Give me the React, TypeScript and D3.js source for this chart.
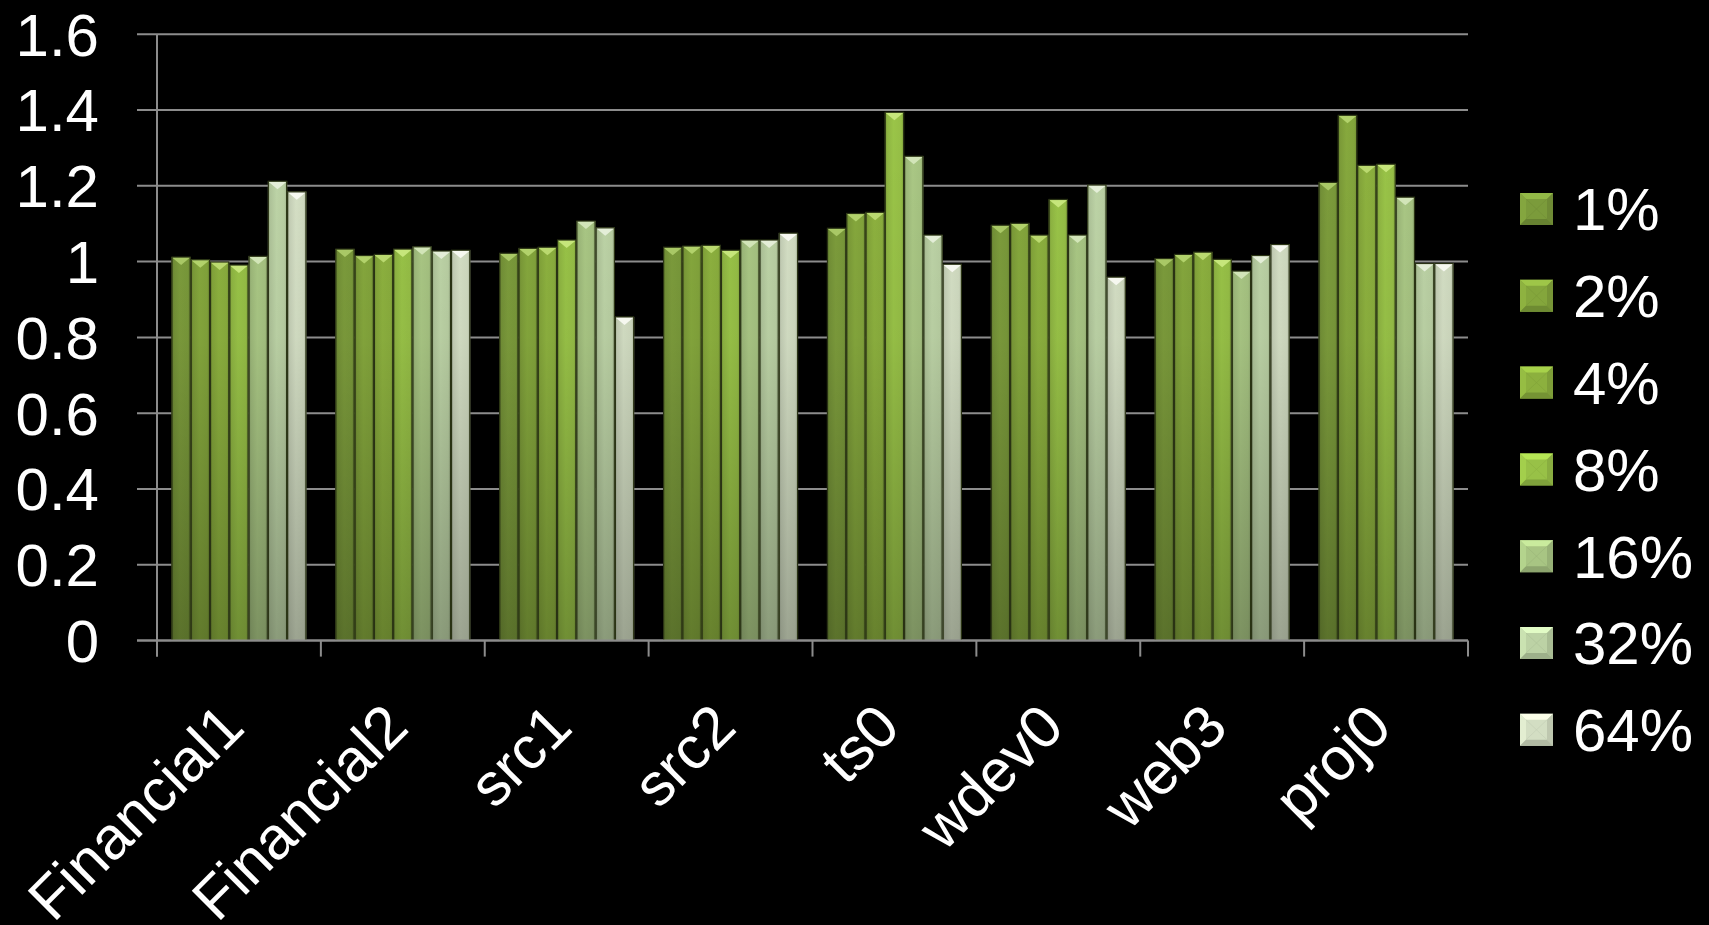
import React from 'react';
import * as d3 from 'd3';

const categories = ['Financial1', 'Financial2', 'src1', 'src2', 'ts0', 'wdev0', 'web3', 'proj0'];
const seriesNames = ['1%', '2%', '4%', '8%', '16%', '32%', '64%'];
const s1 = [1.012, 1.033, 1.022, 1.038, 1.088, 1.096, 1.008, 1.209];
const s2 = [1.005, 1.016, 1.035, 1.041, 1.127, 1.101, 1.019, 1.386];
const s4 = [0.999, 1.019, 1.038, 1.043, 1.13, 1.07, 1.025, 1.254];
const s8 = [0.991, 1.033, 1.057, 1.03, 1.394, 1.164, 1.006, 1.257];
const s16 = [1.014, 1.039, 1.107, 1.057, 1.278, 1.07, 0.975, 1.17];
const s32 = [1.212, 1.028, 1.089, 1.057, 1.07, 1.202, 1.016, 0.995];
const s64 = [1.184, 1.03, 0.854, 1.075, 0.993, 0.959, 1.045, 0.995];
const seriesValues = [s1, s2, s4, s8, s16, s32, s64];
const yTicks = [0, 0.2, 0.4, 0.6, 0.8, 1, 1.2, 1.4, 1.6];
const yTickLabels = ['0', '0.2', '0.4', '0.6', '0.8', '1', '1.2', '1.4', '1.6'];

const baseColors = ['#7b9b3b', '#84a63c', '#8cb03e', '#98c147', '#a8c583', '#bcd2a5', '#d3dec3'];
const topColors = ['#a9c866', '#b2d26b', '#bad96f', '#c6e67b', '#d2e5b8', '#e4eed8', '#f6f8f0'];

const W = 1709;
const H = 925;
const X0 = 157;
const X1 = 1468;
const Y0 = 640.6;
const Y1 = 34.2;
const FONT = '"Liberation Sans", Arial, Helvetica, sans-serif';

export default function App() {
  const x = d3.scaleBand<string>().domain(categories).range([X0, X1]).paddingInner(0).paddingOuter(0);
  const xs = d3.scaleBand<string>().domain(seriesNames).range([0, x.bandwidth()]).paddingInner(0).paddingOuter(0.75);
  const y = d3.scaleLinear().domain([0, 1.6]).range([Y0, Y1]);
  const bw = xs.bandwidth();
  const darker = (c: string, k: number) => d3.color(c)!.darker(k).formatHex();
  const brighter = (c: string, k: number) => d3.color(c)!.brighter(k).formatHex();

  const legendY0 = 209;
  const legendStep = 86.8;

  return (
    <svg width={W} height={H} style={{ position: 'absolute', left: 0, top: 0, background: '#000' }}>
      <defs>
        {baseColors.map((c, i) => (
          <linearGradient key={i} id={`hg${i}`} x1="0" x2="1" y1="0" y2="0">
            <stop offset="0" stopColor={darker(c, 0.7)} />
            <stop offset="0.12" stopColor={darker(c, 0.15)} />
            <stop offset="0.45" stopColor={brighter(c, 0.08)} />
            <stop offset="0.85" stopColor={c} />
            <stop offset="1" stopColor={darker(c, 0.45)} />
          </linearGradient>
        ))}
        <linearGradient id="vshade" gradientUnits="userSpaceOnUse" x1="0" x2="0" y1={Y1} y2={Y0}>
          <stop offset="0" stopColor="#000" stopOpacity="0" />
          <stop offset="0.5" stopColor="#000" stopOpacity="0.05" />
          <stop offset="1" stopColor="#000" stopOpacity="0.28" />
        </linearGradient>
      </defs>
      <rect x={0} y={0} width={W} height={H} fill="#000" />

      {/* gridlines + y ticks */}
      {yTicks.map((t) => (
        <line key={t} x1={137} x2={X1} y1={y(t)} y2={y(t)} stroke="#8c8c8c" strokeWidth={2} />
      ))}
      {/* y axis */}
      <line x1={X0} x2={X0} y1={Y1} y2={Y0 + 16} stroke="#8c8c8c" strokeWidth={2} />
      {/* category ticks */}
      {d3.range(categories.length + 1).map((i) => (
        <line key={i} x1={X0 + i * x.step()} x2={X0 + i * x.step()} y1={Y0} y2={Y0 + 16} stroke="#8c8c8c" strokeWidth={2} />
      ))}

      {/* bars */}
      {categories.map((cat, ci) => (
        <g key={cat}>
          {seriesNames.map((s, si) => {
            const v = seriesValues[si][ci];
            const bx = (x(cat) as number) + (xs(s) as number);
            const by = y(v);
            const bh = Y0 - by;
            return (
              <g key={s}>
                <rect x={bx} y={by} width={bw} height={bh} fill={`url(#hg${si})`} />
                <rect x={bx} y={by} width={bw} height={bh} fill="url(#vshade)" />
                <polygon
                  points={`${bx},${by} ${bx + bw},${by} ${bx + bw / 2},${by + 8}`}
                  fill={topColors[si]}
                />
                <rect x={bx + 0.5} y={by} width={bw - 1} height={bh} fill="none" stroke="#2a3314" strokeWidth={1.2} />
              </g>
            );
          })}
        </g>
      ))}

      {/* redraw x axis line above bars */}
      <line x1={137} x2={X1} y1={Y0} y2={Y0} stroke="#8c8c8c" strokeWidth={2} />

      {/* y labels */}
      {yTicks.map((t, i) => (
        <text key={t} x={99} y={y(t)} dy="0.358em" textAnchor="end" fill="#fff" fontSize={60} fontFamily={FONT}>
          {yTickLabels[i]}
        </text>
      ))}

      {/* x labels */}
      {categories.map((cat) => {
        const cx = (x(cat) as number) + x.bandwidth() / 2 + 8;
        const cy = 730;
        return (
          <text key={cat} transform={`translate(${cx},${cy}) rotate(-45)`} textAnchor="end" fill="#fff" fontSize={60} fontFamily={FONT}>
            {cat}
          </text>
        );
      })}

      {/* legend */}
      {seriesNames.map((s, i) => {
        const cy = legendY0 + i * legendStep;
        const lx = 1520;
        const ly = cy - 16;
        const sz = 33;
        const c = baseColors[i];
        const m = 6;
        return (
          <g key={s}>
            <rect x={lx} y={ly} width={sz} height={32} fill={c} />
            <polygon points={`${lx},${ly} ${lx + sz},${ly} ${lx + sz - m},${ly + m} ${lx + m},${ly + m}`} fill={brighter(c, 0.5)} />
            <polygon points={`${lx},${ly} ${lx + m},${ly + m} ${lx + m},${ly + 32 - m} ${lx},${ly + 32}`} fill={brighter(c, 0.2)} />
            <polygon points={`${lx + sz},${ly} ${lx + sz},${ly + 32} ${lx + sz - m},${ly + 32 - m} ${lx + sz - m},${ly + m}`} fill={darker(c, 0.3)} />
            <polygon points={`${lx},${ly + 32} ${lx + sz},${ly + 32} ${lx + sz - m},${ly + 32 - m} ${lx + m},${ly + 32 - m}`} fill={darker(c, 0.5)} />
            <line x1={lx + m} y1={ly + m} x2={lx + sz - m} y2={ly + 32 - m} stroke={darker(c, 0.2)} strokeWidth={1} opacity={0.6} />
            <line x1={lx + sz - m} y1={ly + m} x2={lx + m} y2={ly + 32 - m} stroke={darker(c, 0.2)} strokeWidth={1} opacity={0.6} />
            <text x={1573} y={cy} dy="0.358em" fill="#fff" fontSize={60} fontFamily={FONT}>
              {s}
            </text>
          </g>
        );
      })}
    </svg>
  );
}
